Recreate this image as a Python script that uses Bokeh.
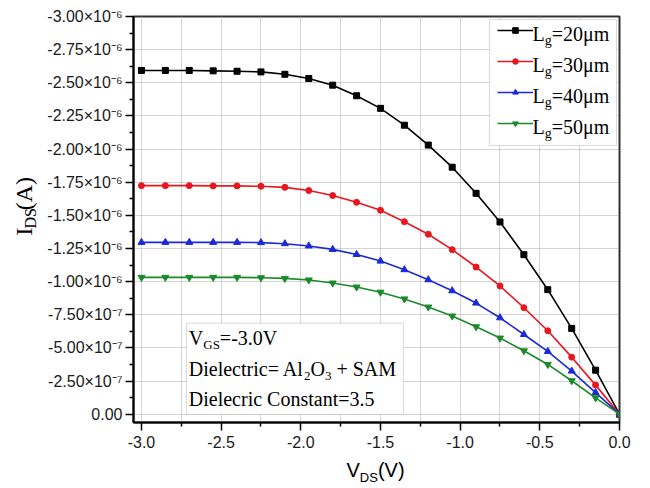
import math
from bokeh.plotting import figure
from bokeh.layouts import column, row
from bokeh.core.properties import value
from bokeh.models import (Range1d, FixedTicker, CustomJSTickFormatter, Label,
                          BoxAnnotation, Legend, LegendItem)
from bokeh.embed import file_html
from bokeh.resources import INLINE

# ---------------- data ----------------
v_ds = [-3.0, -2.85, -2.7, -2.55, -2.4, -2.25, -2.1, -1.95, -1.8, -1.65, -1.5,
        -1.35, -1.2, -1.05, -0.9, -0.75, -0.6, -0.45, -0.3, -0.15, 0.0]

i_ds_20um = [-2.593e-6, -2.593e-6, -2.593e-6, -2.590e-6, -2.587e-6, -2.582e-6,
             -2.564e-6, -2.532e-6, -2.482e-6, -2.402e-6, -2.307e-6, -2.180e-6,
             -2.030e-6, -1.863e-6, -1.666e-6, -1.450e-6, -1.203e-6, -0.939e-6,
             -0.647e-6, -0.332e-6, 0.0]
i_ds_30um = [-1.724e-6, -1.724e-6, -1.724e-6, -1.722e-6, -1.722e-6, -1.719e-6,
             -1.711e-6, -1.687e-6, -1.649e-6, -1.598e-6, -1.538e-6, -1.452e-6,
             -1.357e-6, -1.241e-6, -1.110e-6, -0.967e-6, -0.803e-6, -0.629e-6,
             -0.430e-6, -0.219e-6, 0.0]
i_ds_40um = [-1.296e-6, -1.296e-6, -1.296e-6, -1.296e-6, -1.296e-6, -1.294e-6,
             -1.286e-6, -1.269e-6, -1.243e-6, -1.205e-6, -1.155e-6, -1.090e-6,
             -1.014e-6, -0.931e-6, -0.838e-6, -0.727e-6, -0.601e-6, -0.473e-6,
             -0.325e-6, -0.163e-6, 0.0]
i_ds_50um = [-1.032e-6, -1.032e-6, -1.032e-6, -1.032e-6, -1.032e-6, -1.029e-6,
             -1.024e-6, -1.012e-6, -0.989e-6, -0.959e-6, -0.920e-6, -0.869e-6,
             -0.808e-6, -0.740e-6, -0.659e-6, -0.574e-6, -0.478e-6, -0.375e-6,
             -0.252e-6, -0.123e-6, 0.0]

legend_values = ["=20μm", "=30μm", "=40μm", "=50μm"]

x_ticks = [-3.0, -2.5, -2.0, -1.5, -1.0, -0.5, 0.0]
x_tick_labels = ["-3.0", "-2.5", "-2.0", "-1.5", "-1.0", "-0.5", "0.0"]
x_minor_ticks = [-2.75, -2.25, -1.75, -1.25, -0.75, -0.25]

y_ticks = [0.0, -2.5e-7, -5.0e-7, -7.5e-7, -1.0e-6, -1.25e-6, -1.5e-6,
           -1.75e-6, -2.0e-6, -2.25e-6, -2.5e-6, -2.75e-6, -3.0e-6]
y_tick_labels = ["0.00", "-2.50×10⁻⁷", "-5.00×10⁻⁷", "-7.50×10⁻⁷",
                 "-1.00×10⁻⁶", "-1.25×10⁻⁶", "-1.50×10⁻⁶", "-1.75×10⁻⁶",
                 "-2.00×10⁻⁶", "-2.25×10⁻⁶", "-2.50×10⁻⁶", "-2.75×10⁻⁶",
                 "-3.00×10⁻⁶"]
y_minor_ticks = [-1.25e-7, -3.75e-7, -6.25e-7, -8.75e-7, -1.125e-6, -1.375e-6,
                 -1.625e-6, -1.875e-6, -2.125e-6, -2.375e-6, -2.625e-6, -2.875e-6]

# ---------------- layout constants (page pixels) ----------------
X0, X1 = -3.05, 0.0
Y_BOT, Y_TOP = 0.063e-6, -3.0e-6
TOTAL_W, TOTAL_H = 648, 486
YT_W = 42                 # strip holding the y-axis title
XT_H = 31                 # strip holding the x-axis title
PW, PH = TOTAL_W - YT_W, TOTAL_H - XT_H
FL, FT, FR, FB = 133, 16, 619, 422   # frame edges on the page
ML, MT = FL - YT_W, FT
MR, MB = YT_W + PW - FR, PH - FB
FW, FH = FR - FL, FB - FT
BASELINE_FIX = 0.4        # renderer places "alphabetic" text about 0.4 em low


def px_x(px):
    return X0 + (px - FL) * (X1 - X0) / FW


def px_y(py):
    return Y_TOP + (py - FT) * (Y_BOT - Y_TOP) / FH


p = figure(width=PW, height=PH, x_range=Range1d(X0, X1), y_range=Range1d(Y_BOT, Y_TOP),
           output_backend="svg", toolbar_location=None,
           min_border_left=ML, min_border_right=MR, min_border_top=MT, min_border_bottom=MB)
p.background_fill_color = "white"
p.border_fill_color = "white"
p.outline_line_color = "#333333"
p.outline_line_width = 2

xt = FixedTicker(ticks=x_ticks, minor_ticks=x_minor_ticks)
yt = FixedTicker(ticks=y_ticks, minor_ticks=y_minor_ticks)
p.xaxis.ticker = xt
p.yaxis.ticker = yt
p.xgrid.ticker = xt
p.ygrid.ticker = yt

fmt_code = """
let best = 0;
for (let i = 0; i < vals.length; i++) {
  if (Math.abs(vals[i] - tick) < Math.abs(vals[best] - tick)) best = i;
}
return labs[best];
"""
p.xaxis.formatter = CustomJSTickFormatter(args=dict(vals=x_ticks, labs=x_tick_labels), code=fmt_code)
p.yaxis.formatter = CustomJSTickFormatter(args=dict(vals=y_ticks, labs=y_tick_labels), code=fmt_code)

for ax in (p.xaxis[0], p.yaxis[0]):
    ax.axis_line_width = 2
    ax.axis_line_color = "black"
    ax.major_tick_line_width = 1.5
    ax.minor_tick_line_width = 1.5
    ax.major_tick_out = 8
    ax.major_tick_in = 0
    ax.minor_tick_out = 4
    ax.minor_tick_in = 0
    ax.major_label_text_font = "Liberation Sans"
    ax.major_label_text_font_size = "16px"
    ax.major_label_text_color = "#1a1a1a"
p.yaxis.major_label_standoff = 3
p.xaxis.major_label_standoff = 5

grid_color = "#a8a8a8"
for g in (p.xgrid[0], p.ygrid[0]):
    g.grid_line_color = grid_color
    g.grid_line_dash = "1 1"
    g.grid_line_width = 1
p.xgrid.minor_grid_line_color = grid_color
p.xgrid.minor_grid_line_dash = "1 1"
p.xgrid.minor_grid_line_width = 1

# legend box (drawn below the transparent legend)
p.add_layout(BoxAnnotation(left=px_x(489), right=px_x(616), top=px_y(19), bottom=px_y(145),
                           fill_color="white", fill_alpha=1.0, line_color="#888888", line_width=1))
# annotation box
p.add_layout(BoxAnnotation(left=px_x(186), right=px_x(403), top=px_y(322.7), bottom=px_y(414),
                           fill_color="white", fill_alpha=1.0, line_color="#888888", line_width=1))

series = [i_ds_20um, i_ds_30um, i_ds_40um, i_ds_50um]
colors = ["black", "#e8161e", "#1a2ad6", "#1b8a2a"]
markers = ["square", "circle", "triangle", "inverted_triangle"]
sizes = [6, 6, 7, 7]

items = []
for ys, c, m, s in zip(series, colors, markers, sizes):
    lr = p.line(v_ds, ys, line_color=c, line_width=1.6)
    sr = p.scatter(v_ds, ys, marker=m, size=s, fill_color=c, line_color=c)
    items.append(LegendItem(label=" ", renderers=[lr, sr]))

legend = Legend(items=items, location="top_right", margin=7, padding=4, spacing=17,
                glyph_width=36, glyph_height=14, label_width=76, label_height=14,
                label_standoff=3, label_text_font_size="8px", border_line_color=None,
                background_fill_alpha=0.0)
p.add_layout(legend)

TIMES_W = {' ': .25, '+': .564, '-': .333, '.': .25, '=': .564, '(': .333, ')': .333,
           'A': .722, 'C': .667, 'D': .722, 'G': .722, 'I': .333, 'L': .611, 'M': .889,
           'O': .722, 'S': .556, 'V': .722, 'a': .444, 'c': .444, 'e': .444, 'g': .5,
           'i': .278, 'l': .278, 'm': .778, 'n': .5, 'o': .5, 'r': .333, 's': .389,
           't': .278, 'μ': .5}
ARIAL_W = {'V': .667, 'D': .722, 'S': .667, '(': .333, ')': .333}


def text_width(s, size, table):
    return sum(table.get(ch, 0.5) for ch in s) * size


def layout_parts(parts, px, py, table, angle=0.0):
    out = []
    adv = 0.0
    for txt, size, shift in parts:
        stripped = txt.lstrip(" ")
        adv += text_width(txt[:len(txt) - len(stripped)], size, table)
        fix = BASELINE_FIX * size
        if angle == 0.0:
            xx, yy = px + adv, py + shift - fix
        else:
            xx, yy = px + shift - fix, py - adv
        out.append((xx, yy, stripped, size))
        adv += text_width(stripped, size, table)
    return out


def rich_label(parts, px, py, font, table):
    for xx, yy, txt, size in layout_parts(parts, px, py, table):
        p.add_layout(Label(x=px_x(xx), y=px_y(yy), text=txt, text_font=font,
                           text_font_size=f"{size}px", text_align="left",
                           text_baseline="alphabetic", text_color="black",
                           level="overlay"))


SERIF = "Liberation Serif"
SANS = "Liberation Sans"

# legend texts
for k, val in enumerate(legend_values):
    base = 41.0 + 31 * k
    rich_label([("L", 20, 0), ("g", 14, 4.3), (val, 20, 0)], 532, base, SERIF, TIMES_W)

# annotation texts
rich_label([("V", 20, 0), ("GS", 13, 4.5), ("=-3.0V", 20, 0)], 188.3, 345, SERIF, TIMES_W)
rich_label([("Dielectric= Al", 20, 0), ("2", 13, 4.5), ("O", 20, 0), ("3", 13, 4.5), (" + SAM", 20, 0)],
           188.3, 376, SERIF, TIMES_W)
rich_label([("Dielecric Constant=3.5", 20, 0)], 188.3, 406, SERIF, TIMES_W)


def strip_figure(w, h):
    f = figure(width=w, height=h, x_range=Range1d(0, w), y_range=Range1d(h, 0),
               output_backend="svg", toolbar_location=None,
               x_axis_location=None, y_axis_location=None,
               min_border_left=0, min_border_right=0, min_border_top=0, min_border_bottom=0)
    f.grid.visible = False
    f.outline_line_color = None
    f.background_fill_color = "white"
    f.border_fill_color = "white"
    return f


def rich_glyph(f, parts, px, py, font, table, off_x, off_y, angle=0.0):
    for xx, yy, txt, size in layout_parts(parts, px, py, table, angle):
        f.text(x=[xx - off_x], y=[yy - off_y], text=[txt], text_font=value(font),
               text_font_size=value(f"{size}px"), text_align="left",
               text_baseline="alphabetic", angle=angle, text_color="black")


# y-axis title strip (page x 0..YT_W, y 0..PH)
fy = strip_figure(YT_W, PH)
rich_glyph(fy, [("I", 24, 0), ("DS", 16, 3.5), ("(A)", 24, 0)], 33, 245.7, SERIF, TIMES_W,
           0, 0, angle=math.pi / 2)

# x-axis title strip (page x 0..TOTAL_W, y PH..TOTAL_H)
fx = strip_figure(TOTAL_W, XT_H)
rich_glyph(fx, [("V", 20, 0), ("DS", 13, 5.0), ("(V)", 20, 0)], 346, 477.5, SANS, ARIAL_W, 0, PH)

layout = column(row(fy, p), fx)
open("out.html", "w").write(file_html(layout, INLINE))
